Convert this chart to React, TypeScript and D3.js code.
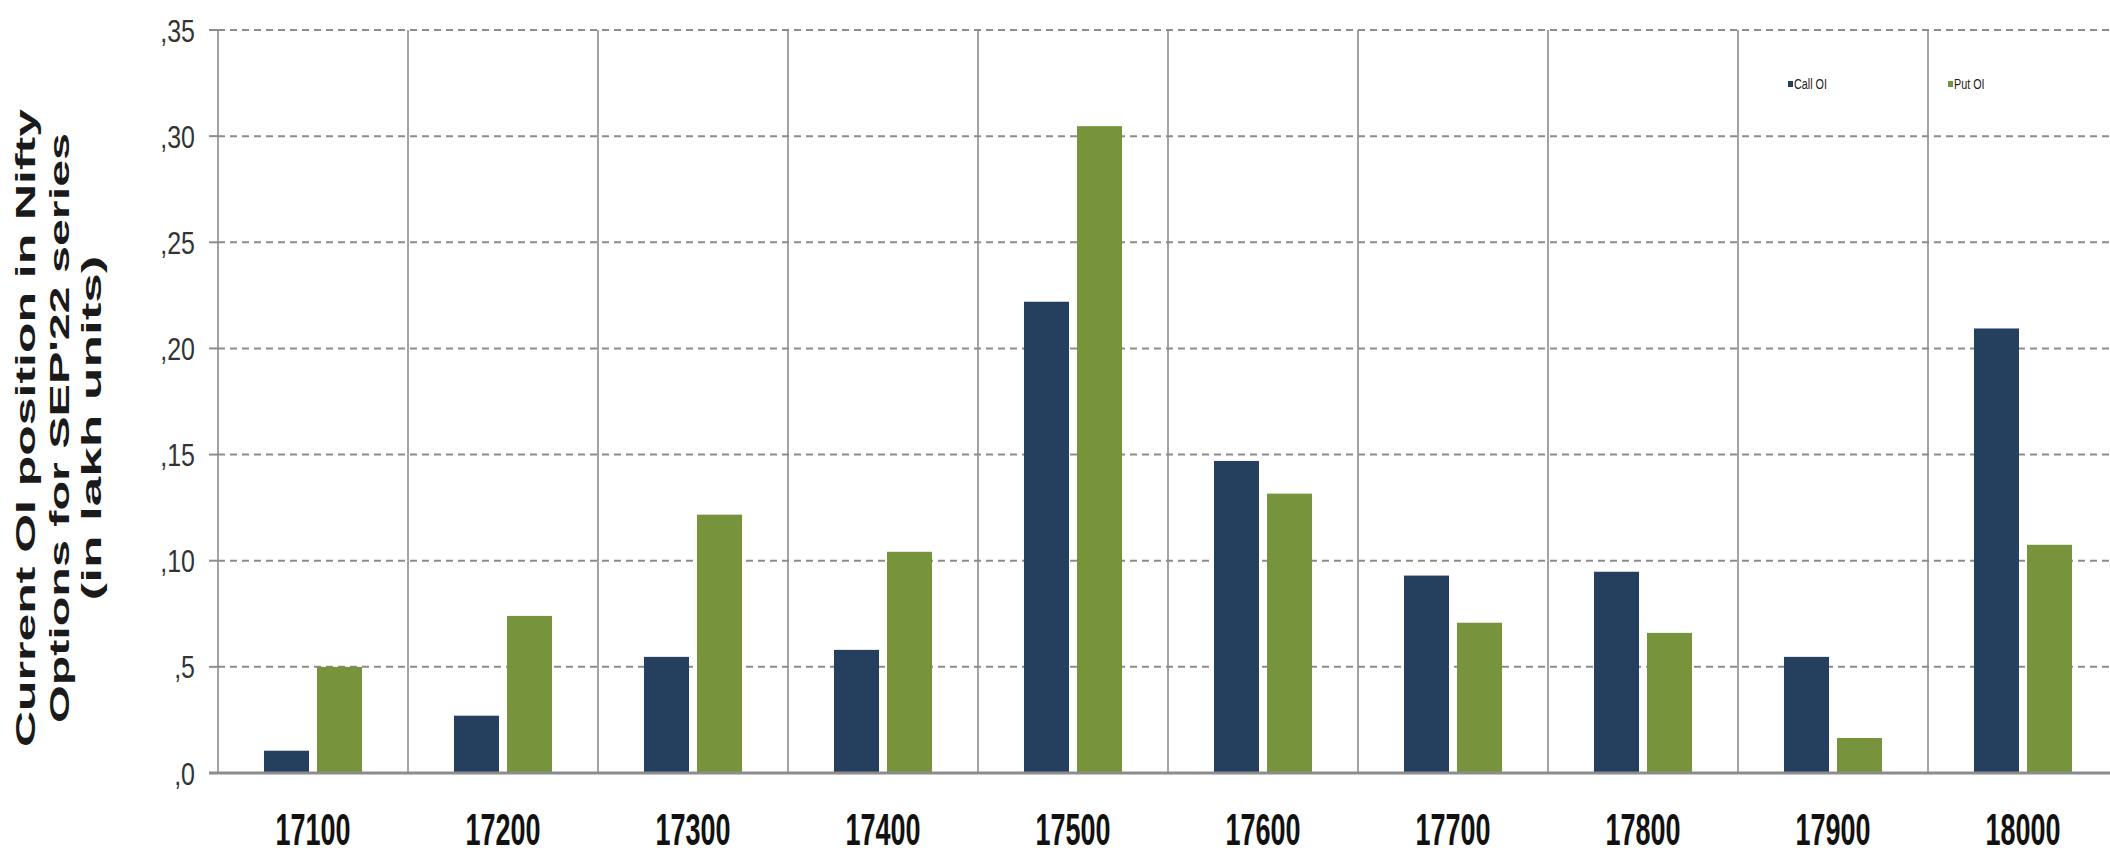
import React, { useEffect } from 'react';
import * as d3 from 'd3';

// strike prices and open interest (lakh units)
const strikes = ['17100', '17200', '17300', '17400', '17500', '17600', '17700', '17800', '17900', '18000'];
const callOI = [0.0105, 0.027, 0.0547, 0.058, 0.222, 0.147, 0.093, 0.0948, 0.0547, 0.2094];
const putOI = [0.05, 0.074, 0.1217, 0.1042, 0.3047, 0.1316, 0.0708, 0.066, 0.0165, 0.1075];
const seriesNames = ['Call OI', 'Put OI'];
const yTicks = [0, 0.05, 0.1, 0.15, 0.2, 0.25, 0.3, 0.35];
const yTickLabels = [',0', ',5', ',10', ',15', ',20', ',25', ',30', ',35'];
const titleLines = ['Current OI position  in Nifty', "Options for SEP'22 series", '(in  lakh  units)'];

const W = 2110;
const H = 857;
const COLORS = ['#253f5f', '#77933c'];
const GRID = '#8c8c8c';
const FONT = '"Liberation Sans", Arial, sans-serif';

const App: React.FC = () => {
  useEffect(() => {
    document.body.style.margin = '0';
  }, []);

  const x0 = d3.scaleBand<string>().domain(strikes).range([218, 2118]).padding(0);
  const bw = x0.bandwidth();
  const x1 = d3.scaleBand<string>().domain(seriesNames).range([bw * 0.242, bw * 0.758]).paddingInner(0.151);
  const y = d3.scaleLinear().domain([0, 0.35]).range([773, 30]);

  const values = [callOI, putOI];

  return (
    <svg width={W} height={H} style={{ display: 'block', background: '#fff' }}>
      {/* horizontal dashed grid */}
      {yTicks.slice(1).map((t) => (
        <line key={'g' + t} x1={218} x2={W} y1={y(t)} y2={y(t)} stroke={GRID} strokeWidth={2} strokeDasharray="7,5" />
      ))}
      {/* tick marks */}
      {yTicks.map((t) => (
        <line key={'t' + t} x1={209} x2={218} y1={y(t)} y2={y(t)} stroke={GRID} strokeWidth={2} />
      ))}
      {/* category separators */}
      {strikes.map((s) => (
        <line key={'v' + s} x1={x0(s)!} x2={x0(s)!} y1={y(0.35)} y2={y(0)} stroke={GRID} strokeWidth={1.6} />
      ))}
      {/* bars */}
      {strikes.map((s, i) => (
        <g key={s} transform={`translate(${x0(s)},0)`}>
          {seriesNames.map((name, k) => (
            <rect
              key={name}
              x={x1(name)}
              y={y(values[k][i])}
              width={x1.bandwidth()}
              height={y(0) - y(values[k][i])}
              fill={COLORS[k]}
            />
          ))}
        </g>
      ))}
      {/* baseline */}
      <line x1={209} x2={W} y1={y(0)} y2={y(0)} stroke={GRID} strokeWidth={3} />
      {/* y tick labels */}
      {yTicks.map((t, i) => (
        <text
          key={'yl' + t}
          transform={`translate(195,${y(t) + 11.5}) scale(0.78,1)`}
          textAnchor="end"
          fontFamily={FONT}
          fontSize={32}
          fill="#333"
        >
          {yTickLabels[i]}
        </text>
      ))}
      {/* x labels */}
      {strikes.map((s) => (
        <text
          key={'xl' + s}
          transform={`translate(${x0(s)! + bw / 2},845) scale(0.6,1)`}
          textAnchor="middle"
          fontFamily={FONT}
          fontWeight="bold"
          fontSize={45}
          fill="#111"
        >
          {s}
        </text>
      ))}
      {/* y axis title */}
      {titleLines.map((line, i) => (
        <text
          key={'ti' + i}
          transform={`translate(${[35, 69, 101][i]},428) rotate(-90)`}
          textAnchor="middle"
          fontFamily={FONT}
          fontWeight="bold"
          fontSize={28}
          fill="#1a1a1a"
          textLength={[638, 590, 345][i]}
          lengthAdjust="spacingAndGlyphs"
        >
          {line}
        </text>
      ))}
      {/* legend */}
      {seriesNames.map((name, k) => {
        const lx = [1788, 1948][k];
        return (
          <g key={'lg' + name} transform={`translate(${lx},84)`}>
            <rect x={0} y={-3} width={5} height={6} fill={COLORS[k]} />
            <text
              transform="translate(6,5) scale(0.72,1)"
              fontFamily={FONT}
              fontSize={15}
              fill="#222"
            >
              {name}
            </text>
          </g>
        );
      })}
    </svg>
  );
};

export default App;
